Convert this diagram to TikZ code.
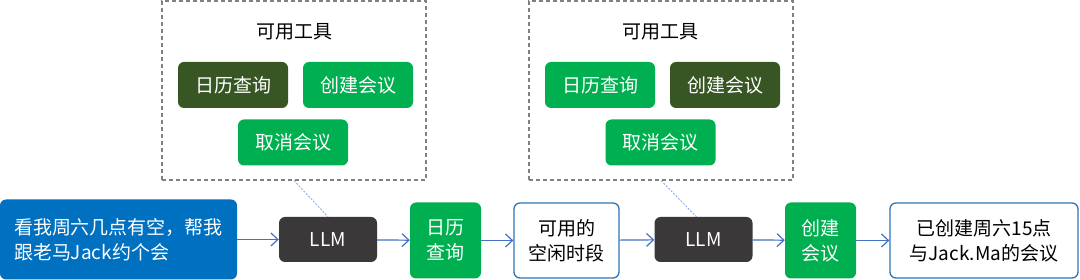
\documentclass[tikz,border=0pt]{standalone}
\usepackage{fontspec}
\setmainfont{Noto Sans CJK SC}
\usetikzlibrary{arrows.meta}
\definecolor{askblue}{HTML}{0070C0}
\definecolor{toolgreen}{HTML}{00B050}
\definecolor{pickedgreen}{HTML}{375623}
\definecolor{llmgray}{HTML}{3A3838}
\definecolor{flowblue}{HTML}{4472C4}
\definecolor{edgeblue}{HTML}{2E75B6}
\definecolor{hintblue}{HTML}{8FAADC}
\begin{document}
\begin{tikzpicture}[x=1pt, y=-1pt,
    box/.style={rounded corners=6pt, align=center, inner sep=0pt, font=\fontsize{19}{25}\selectfont},
    tool/.style={box, minimum width=110pt, minimum height=46pt, fill=toolgreen, text=white},
    picked/.style={tool, fill=pickedgreen},
    toolframe/.style={draw=gray, line width=1.1pt, dash pattern=on 4pt off 3pt, minimum width=264pt, minimum height=179pt},
    llm/.style={box, minimum width=98pt, minimum height=45pt, fill=llmgray, text=white},
    call/.style={box, minimum width=71pt, minimum height=76pt, fill=toolgreen, text=white},
    answer/.style={box, draw=edgeblue, line width=1.3pt, fill=white, minimum height=75pt},
    flow/.style={draw=flowblue, line width=1.2pt, -{Straight Barb[length=7pt, width=13pt]}},
    hint/.style={draw=hintblue, line width=0.9pt, dash pattern=on 2pt off 1.5pt}
]
    \useasboundingbox (0,0) rectangle (1080,280);

    \node[toolframe] (toolsA) at (294, 90.5) {};
    \node[font=\fontsize{19}{25}\selectfont] (titleA) at (294, 32) {可用工具};
    \node[picked] (calA) at (233, 85) {日历查询};
    \node[tool] (meetA) at (358, 85) {创建会议};
    \node[tool] (cancelA) at (293, 142.5) {取消会议};

    \node[toolframe] (toolsB) at (661, 90.5) {};
    \node[font=\fontsize{19}{25}\selectfont] (titleB) at (660, 32) {可用工具};
    \node[tool] (calB) at (600, 85) {日历查询};
    \node[picked] (meetB) at (725, 85) {创建会议};
    \node[tool] (cancelB) at (660.5, 142.5) {取消会议};

    \node[box, fill=askblue, text=white, align=left, minimum width=237pt, minimum height=80pt] (ask) at (118.5, 239.5) {看我周六几点有空，帮我\\跟老马Jack约个会};
    \node[llm] (llmA) at (328, 239.5) {LLM};
    \node[call] (calq) at (445.5, 240.5) {日历\\查询};
    \node[answer, minimum width=105pt] (freeslot) at (566.5, 240.5) {可用的\\空闲时段};
    \node[llm] (llmB) at (703.5, 239.5) {LLM};
    \node[call] (mkmeet) at (820.5, 240.5) {创建\\会议};
    \node[answer, minimum width=188pt] (done) at (984, 240.5) {已创建周六15点\\与Jack.Ma的会议};

    \draw[hint] (toolsA.south) -- (llmA.north);
    \draw[hint] (toolsB.south) -- ([xshift=-7pt]llmB.north);

    \draw[flow] (ask) -- (llmA);
    \draw[flow] (llmA) -- (calq);
    \draw[flow] (calq) -- (freeslot);
    \draw[flow] (freeslot) -- (llmB);
    \draw[flow] (llmB) -- (mkmeet);
    \draw[flow] (mkmeet) -- (done);
\end{tikzpicture}
\end{document}
